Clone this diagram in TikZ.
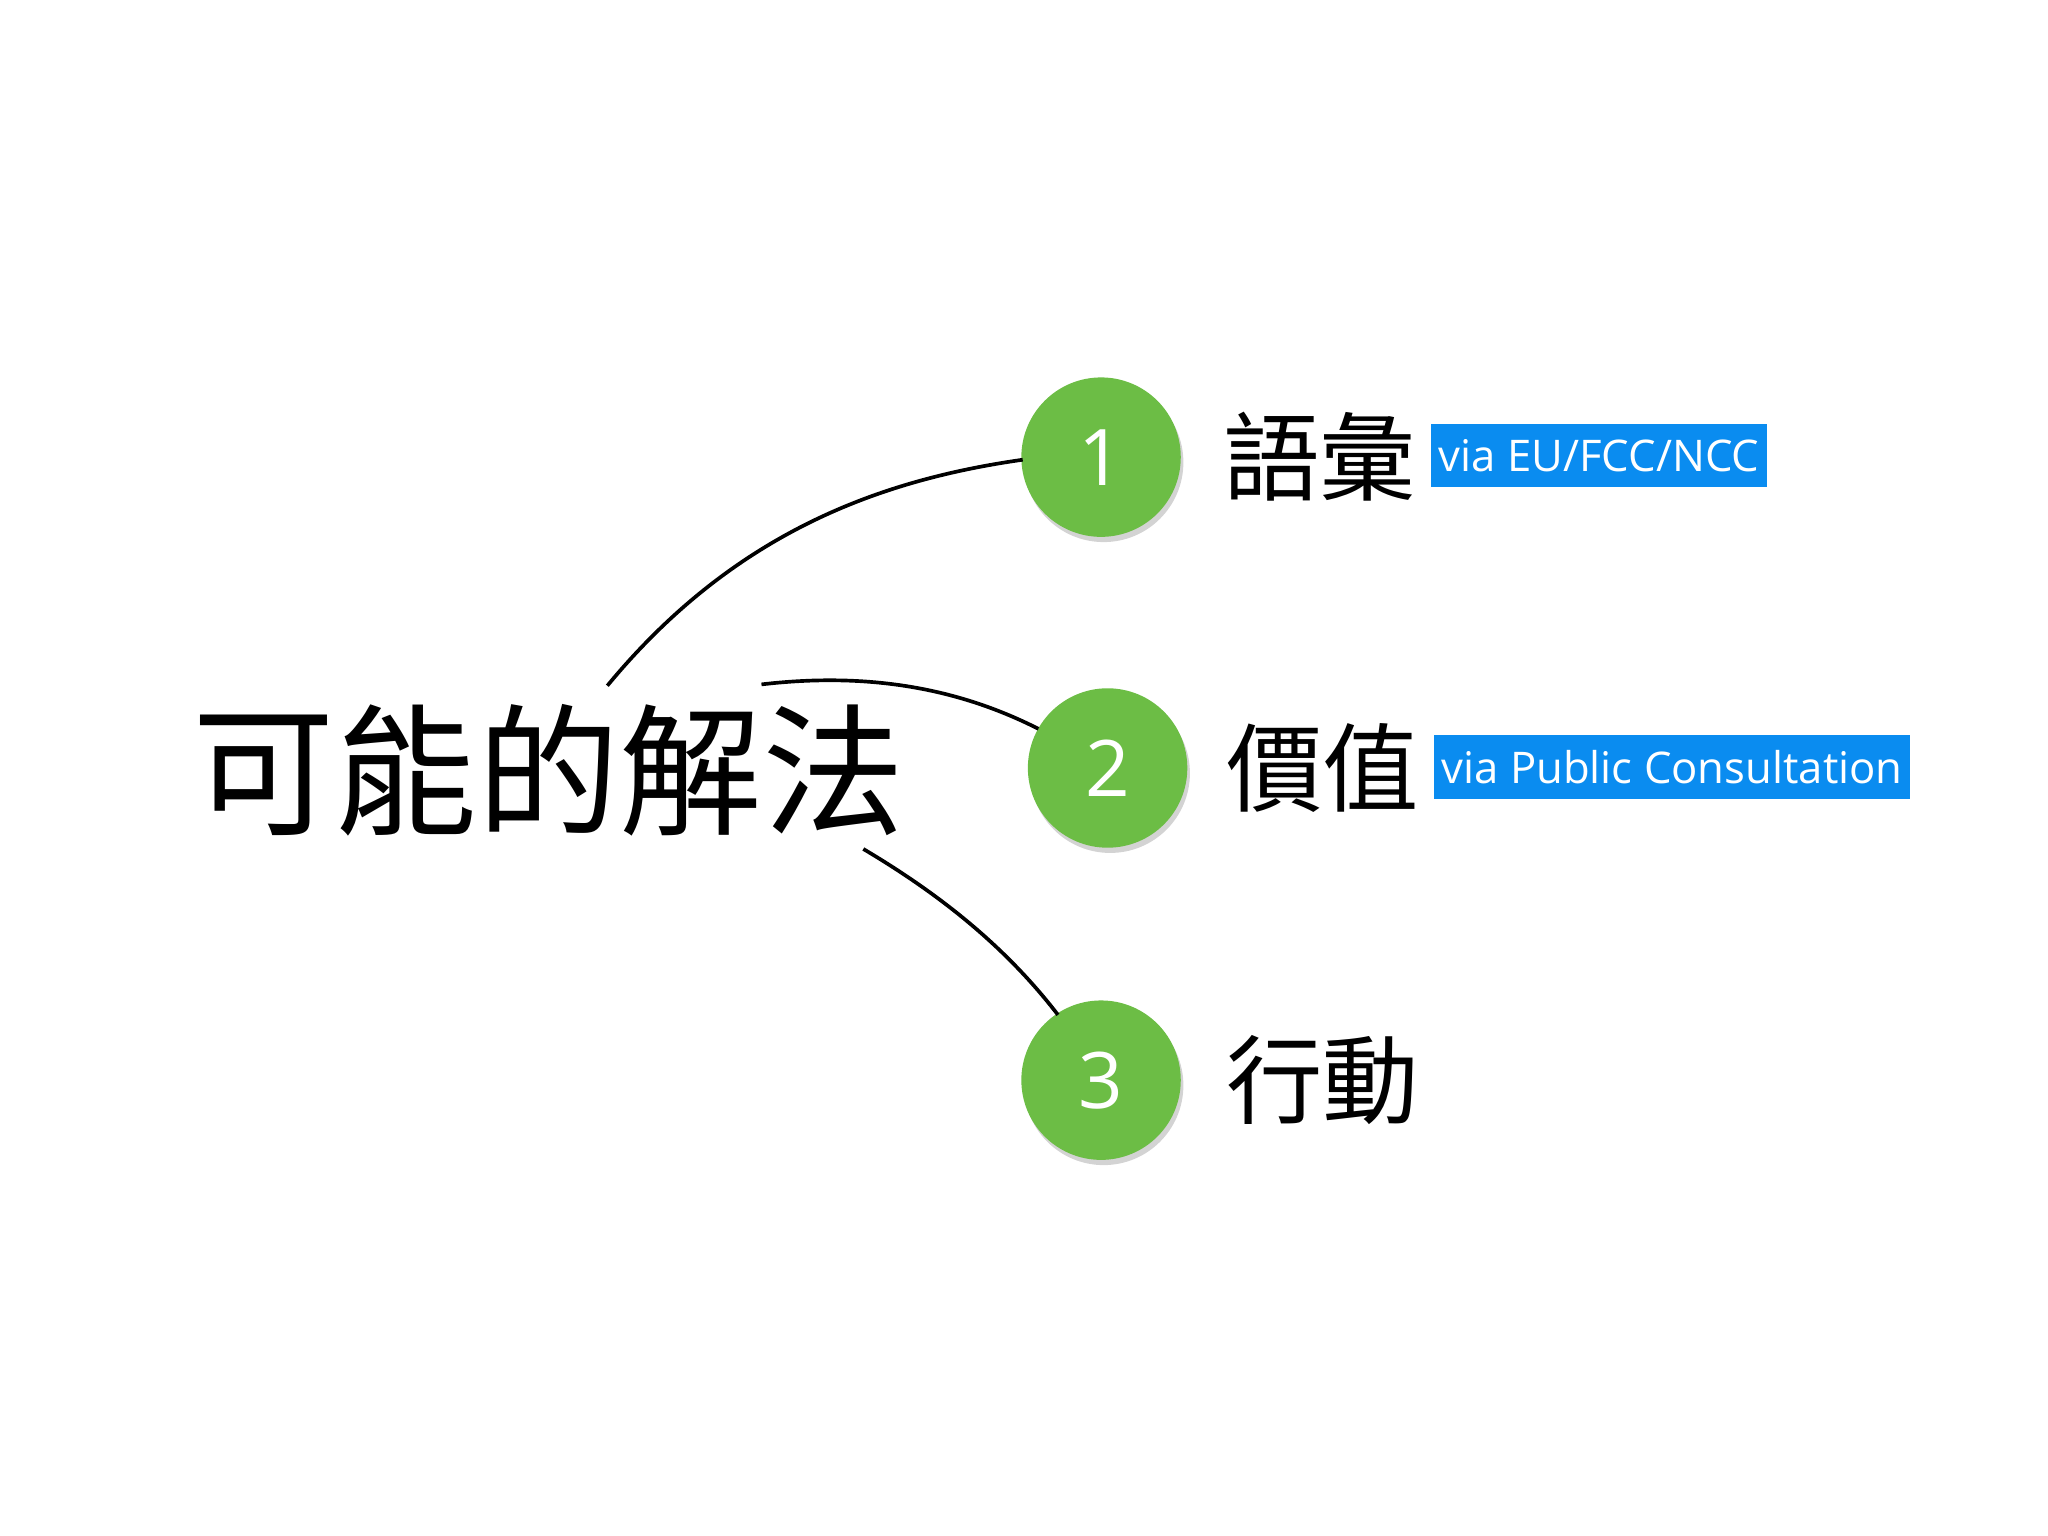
\documentclass[tikz,border=0pt]{standalone}
\usepackage{fontspec}
\setmainfont{Open Sans}
\newfontfamily\cjk{Noto Sans CJK TC}
\usetikzlibrary{shadows}
\definecolor{grn}{HTML}{6CBD45}
\definecolor{blu}{HTML}{0A8CF0}
\tikzset{
  num/.style={circle,fill=grn,minimum size=1.22cm,inner sep=0pt,text=white,font=\fontsize{17}{17}\selectfont,
    drop shadow={shadow xshift=0.02cm,shadow yshift=-0.04cm,opacity=0.35}},
  lab/.style={anchor=west,font=\cjk\fontsize{21}{21}\selectfont,inner sep=0pt},
  tag/.style={anchor=west,fill=blu,text=white,font=\fontsize{9.5}{9.5}\selectfont,inner xsep=0.06cm,minimum height=0.46cm},
  con/.style={line width=0.8pt}
}
\begin{document}
\begin{tikzpicture}[x=0.01cm,y=-0.01cm]
\useasboundingbox (0,0) rectangle (1568,1176);
\node[font=\cjk\fontsize{31}{31}\selectfont,inner sep=0pt] (t) at (420,590) {可能的解法};
\node[num] (n1) at (843,350) {1};
\node[num] (n2) at (848,588) {2};
\node[num] (n3) at (843,827) {3};
\node[lab] (l1) at (936,350) {語彙};
\node[lab] (l2) at (938,588) {價值};
\node[lab] (l3) at (938,827) {行動};
\node[tag] (b1) at (1095,349) {via EU/FCC/NCC};
\node[tag] (b2) at (1097,587) {via Public Consultation};
\coordinate (s1) at (465,525);
\coordinate (s2) at (583,524);
\coordinate (s3) at (661,650);
\coordinate (e1) at (783,352);
\coordinate (e2) at (795,558);
\coordinate (e3) at (810,777);
\draw[con] (s1) .. controls (560,410) and (670,368) .. (e1);
\draw[con] (s2) .. controls (660,515) and (730,525) .. (e2);
\draw[con] (s3) .. controls (720,685) and (770,725) .. (e3);
\end{tikzpicture}
\end{document}
